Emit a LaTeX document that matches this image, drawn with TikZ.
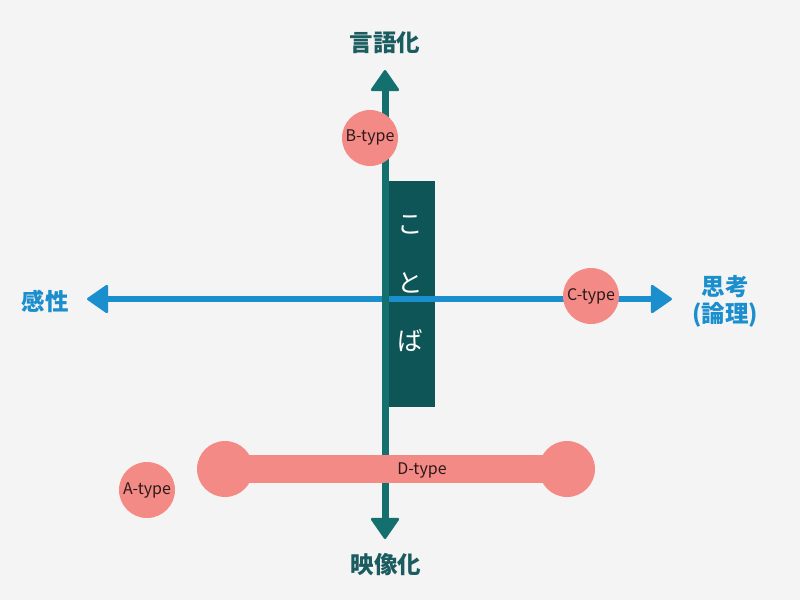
\documentclass[tikz,border=0pt]{standalone}
\usepackage{fontspec}
\setmainfont{Noto Sans CJK JP}
\usetikzlibrary{arrows.meta}
\definecolor{bgcol}{HTML}{F4F4F4}
\definecolor{axteal}{HTML}{14706F}
\definecolor{boxteal}{HTML}{0E5558}
\definecolor{labteal}{HTML}{1A5C60}
\definecolor{axblue}{HTML}{1B8ECE}
\definecolor{salmon}{HTML}{F48A86}
\definecolor{typetext}{HTML}{2A1A1A}
\begin{document}
\begin{tikzpicture}[x=1pt,y=-1pt,
    vaxis/.style={draw=axteal,line width=7pt,{Triangle[width=30pt,length=22pt,round,line width=2.5pt]}-{Triangle[width=30pt,length=22pt,round,line width=2.5pt]}},
    haxis/.style={draw=axblue,line width=6.5pt,{Triangle[width=30pt,length=22pt,round,line width=2.5pt]}-{Triangle[width=30pt,length=22pt,round,line width=2.5pt]}},
    vlabel/.style={text=labteal,font=\fontsize{23.5}{27}\selectfont\bfseries},
    hlabel/.style={text=axblue,font=\fontsize{23.5}{27}\selectfont\bfseries,align=center},
    typecircle/.style={circle,fill=salmon,minimum size=56pt,inner sep=0pt,text=typetext,font=\fontsize{16}{18}\selectfont},
    dbar/.style={draw=salmon,line width=28pt}]
  \fill[bgcol] (0,0) rectangle (800,600);
  \useasboundingbox (0,0) rectangle (800,600);
  % axis ends
  \coordinate (top) at (385,70);
  \coordinate (bottom) at (385,539);
  \coordinate (left) at (87,299);
  \coordinate (right) at (672,299);
  % the box
  \node[fill=boxteal,minimum width=46pt,minimum height=226pt,inner sep=0pt] (kotoba) at (412,294) {};
  \node[text=white,align=center,font=\fontsize{25.5}{58.5}\selectfont] (kotobatext) at (410,284) {こ\\と\\ば};
  % axes
  \draw[haxis] (left) -- (right);
  \draw[vaxis] (bottom) -- (top);
  \node[vlabel] (verbal) at (385,43) {言語化};
  \node[vlabel] (visual) at (386,565) {映像化};
  \node[hlabel] (feeling) at (45,301) {感性};
  \node[hlabel] (logic) at (725,301) {思考\\(論理)};
  % types
  \node[typecircle] (btype) at (370,138) {B-type};
  \node[typecircle] (ctype) at (591,296) {C-type};
  \node[typecircle] (atype) at (147,490) {A-type};
  \node[typecircle] (dleft) at (225,469) {};
  \node[typecircle] (dright) at (567,469) {};
  \draw[dbar] (dleft.center) -- (dright.center);
  \node[text=typetext,font=\fontsize{16}{18}\selectfont] (dtype) at (422,470) {D-type};
\end{tikzpicture}
\end{document}
